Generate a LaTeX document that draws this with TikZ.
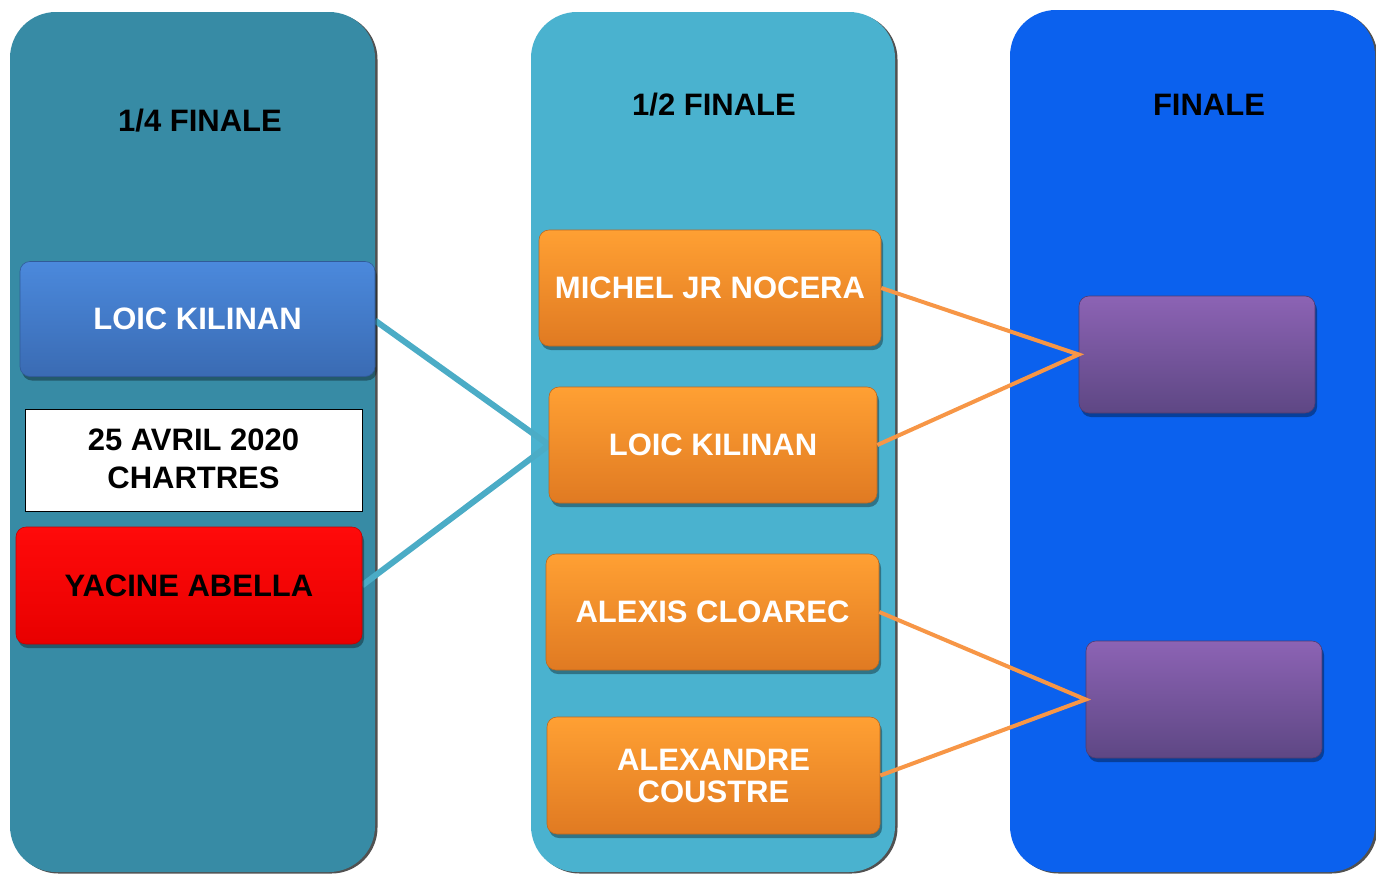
\documentclass[tikz,border=0pt]{standalone}
\usepackage{fontspec}
\setmainfont{Liberation Sans}
\usetikzlibrary{shadows}
\definecolor{colA}{HTML}{378BA5}
\definecolor{colB}{HTML}{4AB2CF}
\definecolor{colC}{HTML}{0B61EE}
\definecolor{orTop}{HTML}{FFA033}
\definecolor{orBot}{HTML}{E07A22}
\definecolor{blTop}{HTML}{4B89DC}
\definecolor{blBot}{HTML}{3A6BB3}
\definecolor{puTop}{HTML}{8C63B4}
\definecolor{puBot}{HTML}{5E4784}
\definecolor{rdTop}{HTML}{FF0A0A}
\definecolor{rdBot}{HTML}{E80000}
\definecolor{tealLine}{HTML}{4BACC6}
\definecolor{orLine}{HTML}{F79646}
\tikzset{
  column/.style={rectangle, rounded corners=46pt, inner sep=0pt, minimum width=365pt,
    drop shadow={shadow xshift=2.5pt, shadow yshift=-1.5pt, opacity=0.8, fill=black!85}},
  title/.style={font=\fontsize{31}{38}\bfseries\selectfont, text=black},
  player/.style={rectangle, rounded corners=10pt, inner sep=0pt, align=center,
    font=\fontsize{31}{32}\bfseries\selectfont, text=white,
    drop shadow={shadow xshift=2pt, shadow yshift=-4pt, opacity=0.35, fill=black}},
  orbox/.style={player, top color=orTop, bottom color=orBot, draw=orBot!85!black, line width=0.6pt},
  pubox/.style={player, top color=puTop, bottom color=puBot, draw=puBot!85!black, line width=0.6pt,
    minimum width=236pt, minimum height=117pt},
  tealconn/.style={draw=tealLine, line width=6pt},
  orconn/.style={draw=orLine, line width=4pt},
}
\begin{document}
\begin{tikzpicture}[x=1pt,y=-1pt]
\useasboundingbox (0,0) rectangle (1376,873);
\fill[white] (0,0) rectangle (1376,873);

% columns
\node[column, fill=colA, minimum height=860pt] (c1) at (192.5,442) {};
\node[column, fill=colB, minimum width=364pt, minimum height=860pt] (c2) at (713,442) {};
\node[column, fill=colC, minimum height=862pt] (c3) at (1192.5,441) {};

% titles
\node[title] (t1) at (200,121) {1/4 FINALE};
\node[title] (t2) at (714,105) {1/2 FINALE};
\node[title] (t3) at (1209,105) {FINALE};

% connectors (behind boxes)
\coordinate (q1e) at (375,320.5);
\coordinate (q2e) at (362,585.5);
\coordinate (s2w) at (549,445);
\draw[tealconn] (q1e) -- (s2w) -- (q2e);

% quarter-final boxes
\node[player, top color=blTop, bottom color=blBot, draw=blBot!85!black, line width=0.6pt,
  minimum width=355pt, minimum height=115pt] (q1) at (197.5,319) {LOIC KILINAN};
\node[rectangle, draw=black, line width=1pt, fill=white, inner sep=0pt, align=center,
  minimum width=337pt, minimum height=102pt,
  font=\fontsize{31}{38}\bfseries\selectfont] (date) at (193.5,460) {\raisebox{3pt}{25 AVRIL 2020}\\\raisebox{3pt}{CHARTRES}};
\node[player, top color=rdTop, bottom color=rdBot, draw=rdBot!85!black, line width=0.6pt,
  text=black, minimum width=346pt, minimum height=117pt] (q2) at (189,585.5) {YACINE ABELLA};

% semi-final boxes
\node[orbox, minimum width=342pt, minimum height=116pt] (s1) at (710,288) {MICHEL JR NOCERA};
\node[orbox, minimum width=328pt, minimum height=116pt] (s2) at (713,445) {LOIC KILINAN};
\node[orbox, minimum width=333pt, minimum height=116pt] (s3) at (712.5,612) {ALEXIS CLOAREC};
\node[orbox, minimum width=333pt, minimum height=117pt] (s4) at (713.5,775.5) {ALEXANDRE\\COUSTRE};

% final boxes
\node[pubox] (f1) at (1197,354.5) {};
\node[pubox] (f2) at (1204,699.5) {};

% orange connectors
\draw[orconn] (s1.east) -- (f1.west) -- (s2.east);
\draw[orconn] (s3.east) -- (f2.west) -- (s4.east);
\end{tikzpicture}
\end{document}
